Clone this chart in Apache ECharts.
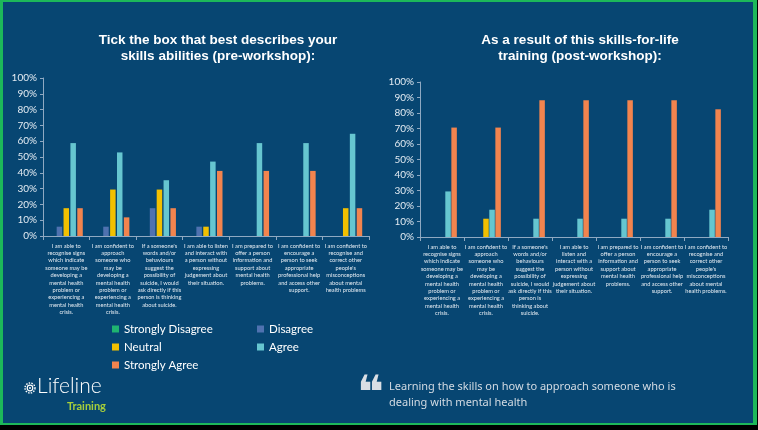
<!DOCTYPE html>
<html><head><meta charset="utf-8">
<script src="https://cdn.jsdelivr.net/npm/echarts@6/dist/echarts.min.js"></script>
<style>html,body{margin:0;padding:0;background:#000;}#c{width:758px;height:430px;}</style>
</head><body><div id="c"></div>
<script>
// ---- data ----
const seriesNames = ['Strongly Disagree','Disagree','Neutral','Agree','Strongly Agree'];
const preCategories = [
  "I am able to\nrecognise signs\nwhich indicate\nsomeone may be\ndeveloping a\nmental health\nproblem or\nexperiencing a\nmental health\ncrisis.",
  "I am confident to\napproach\nsomeone who\nmay be\ndeveloping a\nmental health\nproblem or\nexperiencing a\nmental health\ncrisis.",
  "If a someone's\nwords and/or\nbehaviours\nsuggest the\npossibility of\nsuicide, I would\nask directly if this\nperson is thinking\nabout suicide.",
  "I am able to listen\nand interact with\na person without\nexpressing\njudgement about\ntheir situation.",
  "I am prepared to\noffer a person\ninformation and\nsupport about\nmental health\nproblems.",
  "I am confident to\nencourage a\nperson to seek\nappropriate\nprofessional help\nand access other\nsupport.",
  "I am confident to\nrecognise and\ncorrect other\npeople's\nmisconceptions\nabout mental\nhealth problems"
];
const postCategories = [
  "I am able to\nrecognise signs\nwhich indicate\nsomeone may be\ndeveloping a\nmental health\nproblem or\nexperiencing a\nmental health\ncrisis.",
  "I am confident to\napproach\nsomeone who\nmay be\ndeveloping a\nmental health\nproblem or\nexperiencing a\nmental health\ncrisis.",
  "If a someone's\nwords and/or\nbehaviours\nsuggest the\npossibility of\nsuicide, I would\nask directly if this\nperson is\nthinking about\nsuicide.",
  "I am able to\nlisten and\ninteract with a\nperson without\nexpressing\njudgement about\ntheir situation.",
  "I am prepared to\noffer a person\ninformation and\nsupport about\nmental health\nproblems.",
  "I am confident to\nencourage a\nperson to seek\nappropriate\nprofessional help\nand access other\nsupport.",
  "I am confident to\nrecognise and\ncorrect other\npeople's\nmisconceptions\nabout mental\nhealth problems."
];
// pre-workshop (%)
const preStronglyDisagree = [0, 0, 0, 0, 0, 0, 0];
const preDisagree        = [5.9, 5.9, 17.6, 5.9, 0, 0, 0];
const preNeutral         = [17.6, 29.4, 29.4, 5.9, 0, 0, 17.6];
const preAgree           = [58.8, 52.9, 35.3, 47.1, 58.8, 58.8, 64.7];
const preStronglyAgree   = [17.6, 11.8, 17.6, 41.2, 41.2, 41.2, 17.6];
// post-workshop (%)
const postStronglyDisagree = [0, 0, 0, 0, 0, 0, 0];
const postDisagree         = [0, 0, 0, 0, 0, 0, 0];
const postNeutral          = [0, 11.8, 0, 0, 0, 0, 0];
const postAgree            = [29.4, 17.6, 11.8, 11.8, 11.8, 11.8, 17.6];
const postStronglyAgree    = [70.6, 70.6, 88.2, 88.2, 88.2, 88.2, 82.4];

const colors = ['#1fb571','#4f72b0','#f2c000','#66c6d0','#f2844e'];
const BG = '#074672';
const preData = [preStronglyDisagree, preDisagree, preNeutral, preAgree, preStronglyAgree];
const postData = [postStronglyDisagree, postDisagree, postNeutral, postAgree, postStronglyAgree];

const chart = echarts.init(document.getElementById('c'), null, {renderer:'canvas'});
const axisCol = '#8fa9c2';
const labelCol = '#e3ebf2';
function yAxis(gi){
  return {type:'value', gridIndex:gi, min:0, max:100, interval:10,
    axisLine:{show:true, lineStyle:{color:axisCol}},
    axisTick:{show:true, length:3, lineStyle:{color:axisCol}},
    splitLine:{show:false},
    axisLabel:{formatter:'{value}%', color:labelCol, fontSize:10, fontFamily:'Lato', margin:6}};
}
function xAxis(gi, cats){
  return {type:'category', gridIndex:gi, data:cats,
    axisLine:{lineStyle:{color:axisCol}},
    axisTick:{show:true, length:4, lineStyle:{color:axisCol}},
    axisLabel:{interval:0, color:labelCol, fontSize:5.7, lineHeight:7.4, fontFamily:'Lato', margin:6}};
}
const series = [];
seriesNames.forEach((n,i)=>{
  series.push({name:n, type:'bar', xAxisIndex:0, yAxisIndex:0, data:preData[i], barWidth:5.5, barGap:'25%', itemStyle:{color:colors[i]}});
});
seriesNames.forEach((n,i)=>{
  series.push({name:n, type:'bar', xAxisIndex:1, yAxisIndex:1, data:postData[i], barWidth:5.5, barGap:'10%', itemStyle:{color:colors[i]}});
});
const legendText = {color:'#ffffff', fontSize:11.5, fontFamily:'Lato', lineHeight:14};
chart.setOption({
  animation:false,
  backgroundColor:'#000',
  color: colors,
  graphic:[
    {type:'rect', z:-10, shape:{x:0,y:0,width:757,height:425}, style:{fill:'#1db85a'}},
    {type:'rect', z:-9, shape:{x:3,y:2,width:750,height:421}, style:{fill:BG}},
    // logo
    {type:'circle', shape:{cx:30,cy:388,r:5}, style:{fill:'none', stroke:'#fff', lineWidth:1.4, lineDash:[1.5,1.2]}},
    {type:'circle', shape:{cx:30,cy:388,r:2.8}, style:{fill:'none', stroke:'#fff', lineWidth:1.2}},
    {type:'circle', shape:{cx:30,cy:388,r:1}, style:{fill:'#fff'}},
    {type:'text', left:37, top:376, style:{text:'Lifeline', fill:'#ffffff', font:'300 21px Lato'}},
    {type:'text', left:67, top:401, style:{text:'Training', fill:'#a7cf3a', font:'bold 11px Lato'}},
    // quote
    {type:'text', left:357, top:373, style:{text:'\u275D', fill:'#d9dee4', font:'bold 46px "DejaVu Sans"'}},
    {type:'text', left:389, top:379, style:{text:'Learning the skills on how to approach someone who is\ndealing with mental health', fill:'#d3dbe3', font:'11px "Noto Sans"', lineHeight:16}}
  ],
  title:[
    {text:'Tick the box that best describes your\nskills abilities (pre-workshop):', left:213, top:27, textAlign:'center',
     textStyle:{color:'#fff', fontSize:13.5, fontWeight:'bold', fontFamily:'Liberation Sans', lineHeight:16}},
    {text:'As a result of this skills-for-life\ntraining (post-workshop):', left:575, top:27, textAlign:'center',
     textStyle:{color:'#fff', fontSize:13.5, fontWeight:'bold', fontFamily:'Liberation Sans', lineHeight:16}}
  ],
  legend:[
    {data:['Strongly Disagree','Neutral','Strongly Agree'], orient:'vertical', left:107, top:317, icon:'rect', itemWidth:7, itemHeight:7, itemGap:4, textStyle:legendText, selectedMode:false},
    {data:['Disagree','Agree'], orient:'vertical', left:252, top:317, icon:'rect', itemWidth:7, itemHeight:7, itemGap:4, textStyle:legendText, selectedMode:false}
  ],
  grid:[
    {left:43, top:78, width:326, height:158, containLabel:false},
    {left:420, top:82, width:308, height:155, containLabel:false}
  ],
  xAxis:[xAxis(0, preCategories), xAxis(1, postCategories)],
  yAxis:[yAxis(0), yAxis(1)],
  series: series
});
</script></body></html>
